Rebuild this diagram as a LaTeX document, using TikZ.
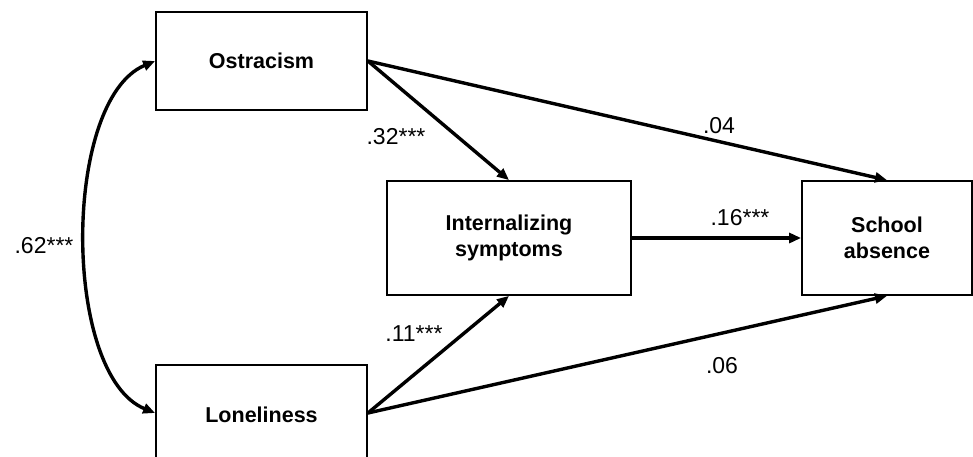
\documentclass[tikz,border=0pt]{standalone}
\usepackage{fontspec}
\setmainfont{Liberation Sans}
\usetikzlibrary{arrows.meta}
\begin{document}
\begin{tikzpicture}[x=1pt,y=-1pt,
  box/.style={draw=black,line width=1.8pt,fill=white,inner sep=0pt,align=center,
    font=\fontsize{21.5}{26.5}\selectfont\bfseries},
  path/.style={line width=3.4pt,-{Triangle[length=12pt,width=10pt]}},
  lbl/.style={font=\fontsize{23}{27}\selectfont,inner sep=0pt}]
\useasboundingbox (0,0) rectangle (973,457);
\fill[white] (0,0) rectangle (973,457);
\node[box,minimum width=211pt,minimum height=98pt] (ost) at (261.5,61) {Ostracism};
\node[box,minimum width=211pt,minimum height=100pt] (lon) at (261.5,415) {Loneliness};
\node[box,minimum width=244pt,minimum height=114pt] (int) at (509,238) {Internalizing\\symptoms};
\node[box,minimum width=170pt,minimum height=114pt] (sa) at (887,238) {School\\absence};
\draw[path] (ost.east) -- (sa.north);
\draw[path] (ost.east) -- (int.north);
\draw[path] ([yshift=2pt]lon.east) -- (int.south);
\draw[path] ([yshift=2pt]lon.east) -- (sa.south);
\draw[path] (int.east) -- (sa.west);
\draw[line width=3.4pt,{Triangle[length=12pt,width=10pt]}-{Triangle[length=12pt,width=10pt]}]
  (ost.west) .. controls (62,100) and (62,375) .. ([yshift=2pt]lon.west);
\node[lbl] (l04) at (719,126) {.04};
\node[lbl] (l32) at (396,137) {.32***};
\node[lbl] (l11) at (414,334) {.11***};
\node[lbl] (l06) at (722,366) {.06};
\node[lbl] (l16) at (740,218) {.16***};
\node[lbl] (l62) at (44,246) {.62***};
\end{tikzpicture}
\end{document}
